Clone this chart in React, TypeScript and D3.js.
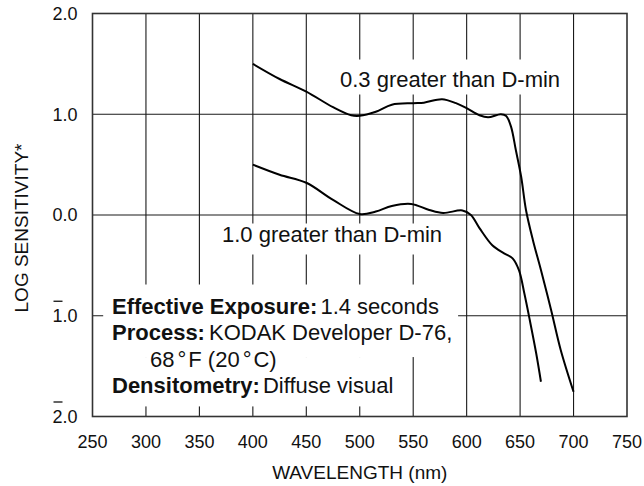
import React from 'react';
import * as d3 from 'd3';

const W = 644;
const H = 486;

const wavelengthTicks = [250, 300, 350, 400, 450, 500, 550, 600, 650, 700, 750];
const sensitivityTicks = [2, 1, 0, -1, -2];
const sensitivityTickLabels = ['2.0', '1.0', '0.0', '1.0', '2.0'];
const sensitivityTickBar = [false, false, false, true, true];

// "0.3 greater than D-min"
const curve03Wavelength = [400, 425, 450, 475, 492, 500, 515, 530, 550, 560, 577, 590, 600, 612, 620, 632, 637, 641.5, 646, 651, 655.5, 662, 669.5, 679, 688, 700];
const curve03LogSens = [1.5, 1.35, 1.225, 1.07, 0.99, 0.985, 1.025, 1.095, 1.11, 1.115, 1.15, 1.11, 1.06, 0.99, 0.97, 1.0, 0.983, 0.877, 0.645, 0.38, 0.05, -0.25, -0.546, -0.943, -1.34, -1.755];

// "1.0 greater than D-min"
const curve10Wavelength = [400, 425, 450, 475, 500, 515, 530, 548, 565, 578, 596, 604, 612, 624, 635, 643, 649, 654, 659, 665, 669.5];
const curve10LogSens = [0.5, 0.4, 0.32, 0.15, 0.01, 0.035, 0.09, 0.11, 0.05, 0.02, 0.045, 0.0, -0.13, -0.3, -0.38, -0.43, -0.55, -0.78, -1.04, -1.37, -1.655];

const FONT = 'Liberation Sans, Arial, Helvetica, sans-serif';

export default function App() {
  const x = d3.scaleLinear().domain([250, 750]).range([92.5, 627]);
  const y = d3.scaleLinear().domain([-2, 2]).range([416.5, 13.5]);

  const line = d3
    .line<[number, number]>()
    .x((d) => x(d[0]))
    .y((d) => y(d[1]))
    .curve(d3.curveCatmullRom.alpha(0.5));

  const upper = curve03Wavelength.map((w, i) => [w, curve03LogSens[i]] as [number, number]);
  const lower = curve10Wavelength.map((w, i) => [w, curve10LogSens[i]] as [number, number]);

  // knockout regions (in data units) where grid is hidden behind text
  const knockouts = [
    { x0: 260, x1: 592, y0: -0.69, y1: -1.41 },
    { x0: 260, x1: 545, y0: -1.41, y1: -1.9 },
  ];

  const label03 = { x: 340, y: 86.5, w: 226 };
  const label10 = { x: 222, y: 241.5, w: 226 };

  const textColor = '#111';
  const gridColor = '#1a1a1a';

  return (
    <svg width={W} height={H} style={{ position: 'absolute', left: 0, top: 0, background: '#fff' }} fontFamily={FONT}>
      <rect x={0} y={0} width={W} height={H} fill="#fff" />
      {/* grid */}
      {wavelengthTicks.slice(1, -1).map((t) => (
        <line key={'v' + t} x1={x(t)} x2={x(t)} y1={y(2)} y2={y(-2)} stroke={gridColor} strokeWidth={1.1} />
      ))}
      {sensitivityTicks.slice(1, -1).map((t) => (
        <line key={'h' + t} x1={x(250)} x2={x(750)} y1={y(t)} y2={y(t)} stroke={gridColor} strokeWidth={1.1} />
      ))}
      {knockouts.map((k, i) => (
        <rect key={'k' + i} x={x(k.x0)} y={y(k.y0)} width={x(k.x1) - x(k.x0)} height={y(k.y1) - y(k.y0)} fill="#fff" />
      ))}
      <rect x={label03.x - 5} y={label03.y - 27} width={label03.w + 10} height={35} fill="#fff" />
      <rect x={label10.x - 5} y={label10.y - 18} width={label10.w + 10} height={31} fill="#fff" />

      {/* curves */}
      <path d={line(upper) || ''} fill="none" stroke="#000" strokeWidth={2} />
      <path d={line(lower) || ''} fill="none" stroke="#000" strokeWidth={2} />

      {/* frame */}
      <rect x={x(250)} y={y(2)} width={x(750) - x(250)} height={y(-2) - y(2)} fill="none" stroke="#333" strokeWidth={1.6} />

      {/* x tick labels */}
      {wavelengthTicks.map((t) => (
        <text key={'xl' + t} x={x(t)} y={447.5} textAnchor="middle" fontSize={18} fill={textColor}>
          {t}
        </text>
      ))}
      {/* y tick labels */}
      {sensitivityTicks.map((t, i) => (
        <g key={'yl' + t}>
          <text x={77.5} y={y(t) + 6.4} textAnchor="end" fontSize={18} fill={textColor}>
            {sensitivityTickLabels[i]}
          </text>
          {sensitivityTickBar[i] && (
            <line x1={53.5} x2={62.5} y1={y(t) - 14.5} y2={y(t) - 14.5} stroke={textColor} strokeWidth={1.3} />
          )}
        </g>
      ))}

      {/* axis titles */}
      <text x={(x(250) + x(750)) / 2} y={479} textAnchor="middle" fontSize={19} fill={textColor}>
        WAVELENGTH (nm)
      </text>
      <text transform={`translate(28, ${(y(2) + y(-2)) / 2 + 13}) rotate(-90)`} textAnchor="middle" fontSize={19} fill={textColor}>
        LOG SENSITIVITY*
      </text>

      {/* curve labels */}
      <text x={label03.x} y={label03.y} fontSize={22} fill={textColor}>
        0.3 greater than D-min
      </text>
      <text x={label10.x} y={label10.y} fontSize={22} fill={textColor}>
        1.0 greater than D-min
      </text>

      {/* annotation */}
      <text x={112} y={313.5} fontSize={22} fill={textColor}>
        <tspan fontWeight="bold">Effective Exposure:</tspan>
        <tspan dx={3}>1.4 seconds</tspan>
      </text>
      <text x={112} y={340} fontSize={22} fill={textColor}>
        <tspan fontWeight="bold">Process:</tspan>
        <tspan dx={4}>KODAK Developer D-76,</tspan>
      </text>
      <text x={150} y={366.7} fontSize={22} fill={textColor}>
        <tspan>68</tspan>
        <tspan dx={3}>°</tspan>
        <tspan dx={2}>F (20</tspan>
        <tspan dx={3}>°</tspan>
        <tspan dx={2}>C)</tspan>
      </text>
      <text x={112} y={393.3} fontSize={22} fill={textColor}>
        <tspan fontWeight="bold">Densitometry:</tspan>
        <tspan dx={3}>Diffuse visual</tspan>
      </text>
    </svg>
  );
}
